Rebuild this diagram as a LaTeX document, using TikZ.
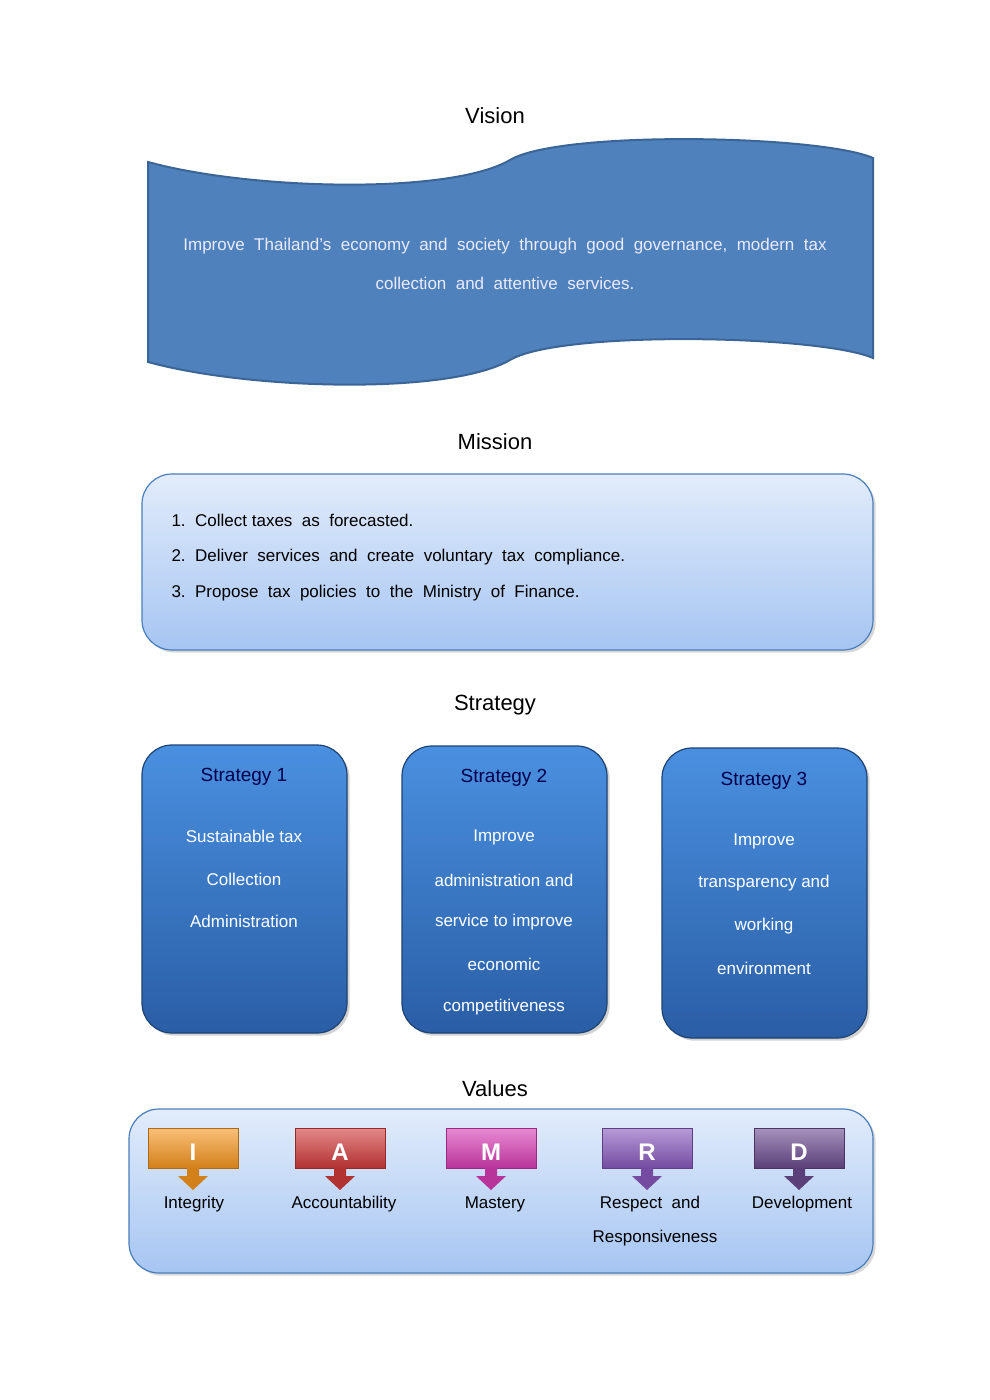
\documentclass[tikz,border=0pt]{standalone}
\usepackage{fontspec}
\setmainfont{Liberation Sans}
\usetikzlibrary{shadows}
\begin{document}
\begin{tikzpicture}[x=1pt,y=-1pt,
  ttl/.style={font=\fontsize{22}{26}\selectfont,text=black},
  body/.style={font=\fontsize{17}{20}\selectfont},
  sbox/.style={rounded corners=30pt,draw=blue!40!black!80,line width=1pt,top color=blue!55!cyan!60!black!60!white,bottom color=blue!60!black!80,drop shadow={opacity=0.35}},
  stitle/.style={font=\fontsize{19}{22}\selectfont,text=blue!30!black},
  stext/.style={font=\fontsize{17}{20}\selectfont,text=white,align=center},
  vlab/.style={font=\fontsize{17}{20}\selectfont}]
\definecolor{sTop}{HTML}{4A90E0}\definecolor{sBot}{HTML}{2A5EA6}
\definecolor{mTop}{HTML}{E2ECFB}\definecolor{mBot}{HTML}{A6C5F2}
\definecolor{bord}{HTML}{4A7EBB}\definecolor{vis}{HTML}{4F81BD}
\useasboundingbox (0,0) rectangle (990,1400);
\fill[white] (0,0) rectangle (990,1400);
% Vision
\node[ttl] (tv) at (495,116) {Vision};
\draw[fill=vis,draw=bord!80!black,line width=2pt] (148,162)
  .. controls (250,190) and (450,195) .. (510,160)
  .. controls (560,130) and (820,135) .. (873,158)
  -- (873,358)
  .. controls (820,335) and (560,330) .. (510,360)
  .. controls (450,395) and (250,390) .. (148,362) -- cycle;
\node[body,text=white!92!blue] (vt1) at (505,246) {Improve\ \ Thailand's\ \ economy\ \ and\ \ society\ \ through\ \ good\ \ governance,\ \ modern\ \ tax};
\node[body,text=white!92!blue] (vt2) at (505,283) {collection\ \ and\ \ attentive\ \ services.};
% Mission
\node[ttl] (tm) at (495,442) {Mission};
\draw[rounded corners=30pt,draw=bord,line width=1.2pt,top color=mTop,bottom color=mBot,drop shadow={opacity=0.3}] (142,474) rectangle (873,650);
\node[body,anchor=west] (m1) at (168,520) {1.\ \ Collect taxes\ \ as\ \ forecasted.};
\node[body,anchor=west] (m2) at (168,557) {2.\ \ Deliver\ \ services\ \ and\ \ create\ \ voluntary\ \ tax\ \ compliance.};
\node[body,anchor=west] (m3) at (168,593) {3.\ \ Propose\ \ tax\ \ policies\ \ to\ \ the\ \ Ministry\ \ of\ \ Finance.};
% Strategy
\node[ttl] (ts) at (495,705) {Strategy};
\foreach \x/\y/\yy in {142/745/1033,402/746/1033,662/748/1038}{
  \draw[rounded corners=30pt,draw=sBot!70!black,line width=1.2pt,top color=sTop,bottom color=sBot,drop shadow={opacity=0.35}] (\x,\y) rectangle (\x+205,\yy);}
\node[stitle] (s1) at (244,777) {Strategy 1};
\node[stext] (s1b) at (244,836) {Sustainable tax};
\node[stext] at (244,879) {Collection};
\node[stext] at (244,921) {Administration};
\node[stitle] (s2) at (504,778) {Strategy 2};
\foreach \t/\yy in {Improve/837,administration and/880,service to improve/922,economic/964,competitiveness/1007}
  \node[stext] at (504,\yy) {\t};
\node[stitle] (s3) at (764,781) {Strategy 3};
\foreach \t/\yy in {Improve/841,transparency and/883,working/926,environment/968}
  \node[stext] at (764,\yy) {\t};
% Values
\node[ttl] (tva) at (495,1089) {Values};
\draw[rounded corners=30pt,draw=bord,line width=1.2pt,top color=mTop,bottom color=mBot,drop shadow={opacity=0.3}] (129,1109) rectangle (873,1273);
\foreach \cx/\col/\L in {193/F7961E/I,340/D23A3A/A,491/D93DB5/M,647/8858BE/R,799/6A4A8E/D}{
  \definecolor{cc}{HTML}{\col}
  \fill[top color=cc!60!white,bottom color=cc!85!black,draw=cc!70!black] (\cx-45,1128) rectangle (\cx+45,1168);
  \fill[cc!85!black] (\cx-6,1168) -- (\cx-6,1176) -- (\cx-15,1176) -- (\cx,1190) -- (\cx+15,1176) -- (\cx+6,1176) -- (\cx+6,1168) -- cycle;
  \node[font=\bfseries\fontsize{24}{26}\selectfont,text=white] at (\cx,1152) {\L};}
\node[vlab] (v1) at (194,1204) {Integrity};
\node[vlab] (v2) at (344,1204) {Accountability};
\node[vlab] (v3) at (495,1204) {Mastery};
\node[vlab] (v4) at (650,1204) {Respect\ \ and};
\node[vlab] (v4b) at (655,1238) {Responsiveness};
\node[vlab] (v5) at (802,1204) {Development};
\end{tikzpicture}
\end{document}
